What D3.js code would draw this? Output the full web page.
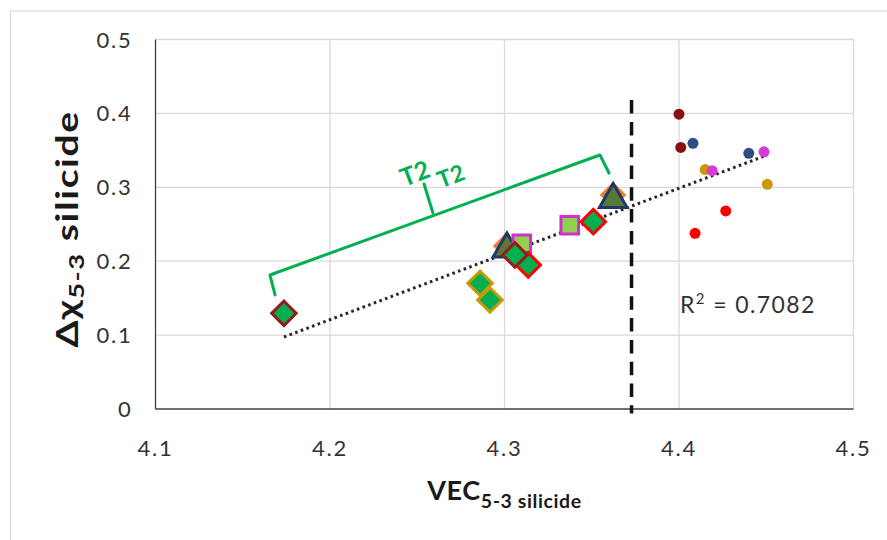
<!DOCTYPE html>
<html>
<head>
<meta charset="utf-8">
<script src="https://cdn.jsdelivr.net/npm/d3@7"></script>
<style>
  html, body { margin: 0; padding: 0; background: #fff; }
  svg { display: block; }
  text { font-family: Lato, "Open Sans", "Liberation Sans", sans-serif; }
</style>
</head>
<body>
<svg id="chart" width="887" height="540"></svg>
<script>
// Axis ticks
const xTicks = [4.1, 4.2, 4.3, 4.4, 4.5];
const yTicks = [0, 0.1, 0.2, 0.3, 0.4, 0.5];
const xTickLabels = ["4.1", "4.2", "4.3", "4.4", "4.5"];
const yTickLabels = ["0", "0.1", "0.2", "0.3", "0.4", "0.5"];

// Alloys right of the boundary (small dots): [VEC, Δχ]
const dotsDarkRed = [[4.400, 0.399], [4.401, 0.354]];
const dotsNavy = [[4.408, 0.3595], [4.440, 0.346]];
const dotsGold = [[4.415, 0.324], [4.4506, 0.304]];
const dotsMagenta = [[4.419, 0.3225], [4.4487, 0.348]];
const dotsRed = [[4.4268, 0.268], [4.4092, 0.2378]];

// Alloys left of the boundary (large markers): [VEC, Δχ]
const diamondsOrange = [[4.3009, 0.2206], [4.3622, 0.2896]];
const trianglesNavy = [[4.3014, 0.2166], [4.3623, 0.2836]];
const squaresMagenta = [[4.3099, 0.2237], [4.3374, 0.2486]];
const diamondsRed = [[4.3136, 0.1949], [4.3509, 0.2535]];
const diamondsGold = [[4.286, 0.170], [4.2917, 0.1475]];
const diamondsDarkRed = [[4.1736, 0.1295], [4.306, 0.2084]];

// Linear trendline
const trendSlope = 0.889;
const trendIntercept = -3.6129;
const trendRange = [4.1736, 4.4506];
const rSquared = "0.7082";

// Vertical VEC boundary
const boundaryVEC = 4.3728;
const boundarySpan = [-0.006, 0.418];

// T2 bracket (data units)
const bracketPath = [[4.1685, 0.1543], [4.1656, 0.1813], [4.3547, 0.3437], [4.3599, 0.3193]];
const bracketTip = [[4.2590, 0.2652], [4.2539, 0.3045]];
const bracketLabels = [
  { text: "T2", at: [4.2486, 0.319], size: 25 },
  { text: "T2", at: [4.2692, 0.3153], size: 23 }
];

// ---- drawing ----
const svg = d3.select("#chart");
const plot = { left: 155.5, right: 853.5, top: 39.5, bottom: 409 };

const x = d3.scaleLinear().domain([4.1, 4.5]).range([plot.left, plot.right]);
const y = d3.scaleLinear().domain([0, 0.5]).range([plot.bottom, plot.top]);

// outer chart frame
svg.append("rect")
  .attr("x", 10.5).attr("y", 11).attr("width", 1000).attr("height", 1000)
  .attr("fill", "none").attr("stroke", "#D9D9D9").attr("stroke-width", 1.2);

// gridlines
svg.append("g").selectAll("line").data(yTicks.filter(d => d > 0)).join("line")
  .attr("x1", plot.left).attr("x2", plot.right)
  .attr("y1", d => y(d)).attr("y2", d => y(d))
  .attr("stroke", "#D9D9D9").attr("stroke-width", 1.3);
svg.append("g").selectAll("line").data(xTicks.filter(d => d > 4.1)).join("line")
  .attr("x1", d => x(d)).attr("x2", d => x(d))
  .attr("y1", plot.top).attr("y2", plot.bottom)
  .attr("stroke", "#D9D9D9").attr("stroke-width", 1.3);

// axis lines
svg.append("line").attr("x1", plot.left).attr("x2", plot.left)
  .attr("y1", plot.top).attr("y2", plot.bottom)
  .attr("stroke", "#404040").attr("stroke-width", 1.3);
svg.append("line").attr("x1", plot.left).attr("x2", plot.right)
  .attr("y1", plot.bottom).attr("y2", plot.bottom)
  .attr("stroke", "#404040").attr("stroke-width", 1.3);

// tick labels
svg.append("g").selectAll("text").data(yTicks).join("text")
  .attr("x", 132.5).attr("y", d => y(d) + 8)
  .attr("text-anchor", "end")
  .attr("font-size", 22).attr("letter-spacing", 1.8).attr("fill", "#333")
  .text((d, i) => yTickLabels[i]);
svg.append("g").selectAll("text").data(xTicks).join("text")
  .attr("x", d => x(d)).attr("y", 456)
  .attr("text-anchor", "middle")
  .attr("font-size", 22).attr("letter-spacing", 1.8).attr("fill", "#333")
  .text((d, i) => xTickLabels[i]);

// axis titles
const xt = svg.append("text")
  .attr("x", (plot.left + plot.right) / 2).attr("y", 500)
  .attr("text-anchor", "middle").attr("font-weight", "bold").attr("fill", "#1a1a1a")
  .attr("letter-spacing", 0.6);
xt.append("tspan").attr("font-size", 27).text("VEC");
xt.append("tspan").attr("font-size", 19.5).attr("dy", 7.5).text("5-3 silicide");

const yt = svg.append("text")
  .attr("transform", "translate(78,229) rotate(-90) scale(1.3,1)")
  .attr("text-anchor", "middle").attr("font-weight", "bold").attr("fill", "#1a1a1a")
  .attr("letter-spacing", 1.2);
yt.append("tspan").attr("font-size", 30).text("Δχ");
yt.append("tspan").attr("font-size", 21).attr("dy", 6).text("5-3");
yt.append("tspan").attr("font-size", 30).attr("dy", -6).text(" silicide");

// vertical boundary
svg.append("line")
  .attr("x1", x(boundaryVEC)).attr("x2", x(boundaryVEC))
  .attr("y1", y(boundarySpan[1])).attr("y2", y(boundarySpan[0]))
  .attr("stroke", "#111").attr("stroke-width", 3.5)
  .attr("stroke-dasharray", "13.5,8.3");

// trendline
const trendLine = trendRange.map(v => [v, trendSlope * v + trendIntercept]);
svg.append("path")
  .attr("d", d3.line().x(d => x(d[0])).y(d => y(d[1]))(trendLine))
  .attr("fill", "none").attr("stroke", "#262626").attr("stroke-width", 3)
  .attr("stroke-dasharray", "2.6,3.4");

svg.append("text")
  .attr("x", 680).attr("y", 313)
  .attr("font-size", 23).attr("letter-spacing", 1.4).attr("fill", "#333")
  .call(t => {
    t.append("tspan").text("R");
    t.append("tspan").attr("font-size", 15).attr("dy", -9).text("2");
    t.append("tspan").attr("dy", 9).text(" = " + rSquared);
  });

// T2 bracket
const green = "#00B050";
svg.append("path")
  .attr("d", d3.line().x(d => x(d[0])).y(d => y(d[1]))(bracketPath))
  .attr("fill", "none").attr("stroke", green).attr("stroke-width", 3)
  .attr("stroke-linejoin", "round").attr("stroke-linecap", "round");
svg.append("path")
  .attr("d", d3.line().x(d => x(d[0])).y(d => y(d[1])).curve(d3.curveBasis)(bracketTip))
  .attr("fill", "none").attr("stroke", green).attr("stroke-width", 3)
  .attr("stroke-linecap", "round");
svg.append("g").selectAll("text").data(bracketLabels).join("text")
  .attr("transform", d => `translate(${x(d.at[0])},${y(d.at[1])}) rotate(-21)`)
  .attr("text-anchor", "middle").attr("dy", "0.36em")
  .attr("font-size", d => d.size).attr("font-weight", "bold").attr("fill", green)
  .text(d => d.text);

// markers
const diamond = d3.symbol().type(d3.symbolSquare).size(300);
const backDiamond = d3.symbol().type(d3.symbolSquare).size(250);
const triangle = d3.symbol().type(d3.symbolTriangle).size(330);
const square = d3.symbol().type(d3.symbolSquare).size(310);

function drawMarkers(points, path, rotate, fill, stroke) {
  svg.append("g").selectAll("path").data(points).join("path")
    .attr("d", path)
    .attr("transform", d => `translate(${x(d[0])},${y(d[1])})${rotate ? " rotate(45)" : ""}`)
    .attr("fill", fill).attr("stroke", stroke).attr("stroke-width", 3)
    .attr("stroke-linejoin", "miter");
}

drawMarkers(diamondsOrange, backDiamond, true, "#00B050", "#ED7D31");
drawMarkers(trianglesNavy, triangle, false, "#58793A", "#1F3864");
drawMarkers(squaresMagenta, square, false, "#92D050", "#D030D0");
drawMarkers(diamondsRed, diamond, true, "#00B050", "#FF0000");
drawMarkers(diamondsGold, diamond, true, "#00B050", "#C99A06");
drawMarkers(diamondsDarkRed, diamond, true, "#00B050", "#971B1B");

function drawDots(points, color) {
  svg.append("g").selectAll("circle").data(points).join("circle")
    .attr("cx", d => x(d[0])).attr("cy", d => y(d[1])).attr("r", 5.5)
    .attr("fill", color);
}
drawDots(dotsDarkRed, "#8B0E0E");
drawDots(dotsNavy, "#2F4D85");
drawDots(dotsGold, "#C99A06");
drawDots(dotsMagenta, "#D63CD6");
drawDots(dotsRed, "#FF0000");
</script>
</body>
</html>
